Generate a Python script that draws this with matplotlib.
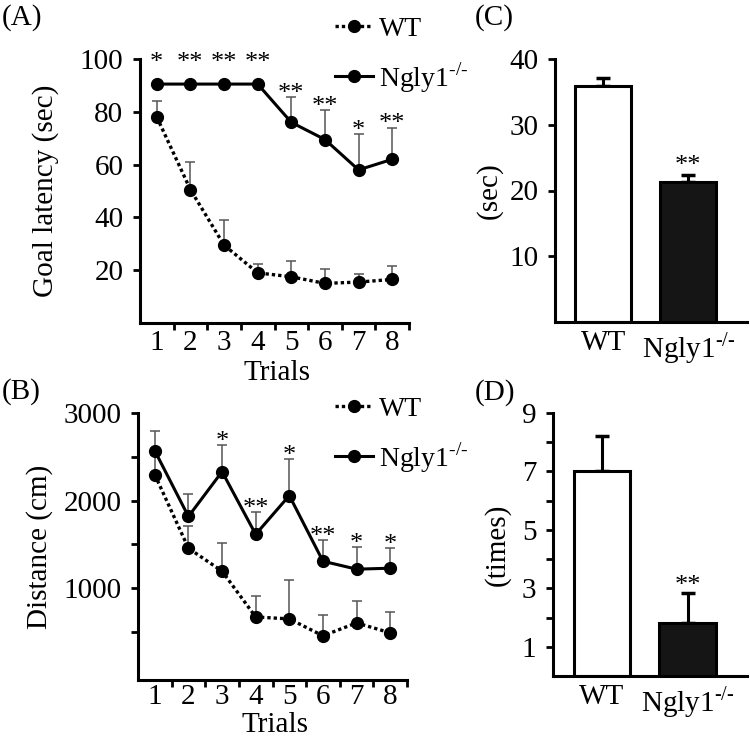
import matplotlib
matplotlib.use("Agg")
import matplotlib.pyplot as plt
import numpy as np

plt.rcParams["font.family"] = ["Liberation Serif", "DejaVu Serif"]
plt.rcParams["mathtext.fontset"] = "custom"
plt.rcParams["mathtext.rm"] = "Liberation Serif"

# ---- data ----
trials = [1, 2, 3, 4, 5, 6, 7, 8]

latency_wt = [78, 50.5, 29.5, 19, 17.5, 15, 15.5, 16.5]
latency_wt_err = [6, 10.5, 9.5, 3.5, 6, 5.5, 3, 5]
latency_ko = [90.5, 90.5, 90.5, 90.5, 76, 69.5, 58, 62]
latency_ko_err = [0, 0, 0, 0, 9.5, 11, 13.5, 12]
latency_sig = ["*", "**", "**", "**", "**", "**", "*", "**"]

distance_wt = [2295, 1455, 1193, 670, 648, 455, 602, 489]
distance_wt_err = [230, 250, 318, 239, 443, 238, 250, 238]
distance_ko = [2568, 1818, 2330, 1614, 2057, 1307, 1216, 1227]
distance_ko_err = [227, 262, 306, 250, 420, 238, 250, 228]
distance_sig = ["", "", "*", "**", "*", "**", "*", "*"]

KO = "Ngly1$^{\\text{-/-}}$"
groups = ["WT", KO]
time_c = [35.9, 21.3]
time_c_err = [1.2, 1.1]
times_d = [7.0, 1.8]
times_d_err = [1.2, 1.03]
bar_sig = ["", "**"]

FS = 21
W, H = 750, 742
fig = plt.figure(figsize=(W / 100, H / 100), dpi=100)


def fbox(l, t, r, b):
    return [l / W, 1 - b / H, (r - l) / W, (b - t) / H]


def style_axes(ax):
    for s in ["top", "right"]:
        ax.spines[s].set_visible(False)
    for s in ["left", "bottom"]:
        ax.spines[s].set_linewidth(2.2)
    ax.tick_params(axis="y", direction="out", length=5, width=2, pad=7, labelsize=FS)


def stars(ax, x, y, s, dy):
    ax.annotate(s, (x, y), xytext=(0, dy), textcoords="offset points", ha="center",
                va="baseline", fontsize=19, annotation_clip=False)


def line_panel(ax, wt, wt_err, ko, ko_err, sig, ylim, yticks, ylabels, ylabel, lx,
               xpad, xly):
    x = np.array(trials)
    ax.errorbar(x, wt, yerr=[np.zeros(len(wt)), wt_err], fmt="none", ecolor="#555555",
                elinewidth=1.1, capsize=3.5, capthick=1.1, zorder=1)
    ax.errorbar(x, ko, yerr=[np.zeros(len(ko)), ko_err], fmt="none", ecolor="#555555",
                elinewidth=1.1, capsize=3.5, capthick=1.1, zorder=1)
    ax.plot(x, wt, color="black", lw=2.4, ls=(0, (1, 0.9)), marker="o", ms=8.5,
            label="WT", zorder=3)
    ax.plot(x, ko, color="black", lw=2.2, ls="-", marker="o", ms=8.5,
            label=KO, zorder=3)
    for xi, m, e, s in zip(x, ko, ko_err, sig):
        if not s:
            continue
        if e > 0:
            stars(ax, xi, m + e, s, -2)
        else:
            stars(ax, xi, ylim[1], s, -7)
    style_axes(ax)
    ax.set_xlim(0.5, 8.5)
    ax.set_ylim(*ylim)
    ax.set_yticks(yticks)
    ax.set_yticklabels(ylabels)
    ax.set_xticks(trials)
    ax.set_xticklabels([str(t) for t in trials])
    ax.set_xticks(np.arange(1.5, 9, 1), minor=True)
    ax.tick_params(axis="x", which="major", length=0, pad=xpad, labelsize=FS)
    ax.tick_params(axis="x", which="minor", direction="out", length=5, width=2)
    ax.set_xlabel("Trials", fontsize=FS)
    ax.xaxis.set_label_coords(0.51, xly)
    ax.set_ylabel(ylabel, fontsize=FS)
    ax.yaxis.set_label_coords(lx, 0.5)


def bar_panel(ax, vals, errs, ylim, yticks, ylabels, ylabel, lx, pad_pts):
    x = np.arange(len(groups))
    ax.bar(x, vals, width=0.66, color=["white", "#151515"], edgecolor="black",
           linewidth=2.2, zorder=2)
    ax.errorbar(x, vals, yerr=[np.zeros(len(vals)), errs], fmt="none", ecolor="black",
                elinewidth=2.2, capsize=5, capthick=2.5, zorder=1)
    for xi, v, e, s in zip(x, vals, errs, bar_sig):
        if s:
            stars(ax, xi, v + e, s, pad_pts)
    style_axes(ax)
    ax.set_xlim(-0.57, 1.69)
    ax.set_ylim(*ylim)
    ax.set_yticks(yticks)
    ax.set_yticklabels(ylabels)
    ax.set_xticks(x)
    ax.set_xticklabels(groups)
    ax.tick_params(axis="x", length=0, pad=6, labelsize=FS)
    ax.set_ylabel(ylabel, fontsize=FS)
    ax.yaxis.set_label_coords(lx, 0.5)


axA = fig.add_axes(fbox(140, 59, 409, 323))
line_panel(axA, latency_wt, latency_wt_err, latency_ko, latency_ko_err, latency_sig,
           (0, 100), [20, 40, 60, 80, 100], ["20", "40", "60", "80", "100"],
           "Goal latency (sec)", -0.30, 5, -0.14)

axB = fig.add_axes(fbox(138, 413, 407, 680))
line_panel(axB, distance_wt, distance_wt_err, distance_ko, distance_ko_err, distance_sig,
           (-50, 3000), [500, 1000, 1500, 2000, 2500, 3000],
           ["", "1000", "", "2000", "", "3000"], "Distance (cm)", -0.315, 3, -0.12)

axC = fig.add_axes(fbox(555, 59, 747, 322))
bar_panel(axC, time_c, time_c_err, (0, 40), [10, 20, 30, 40], ["10", "20", "30", "40"],
          "(sec)", -0.27, 2)

axD = fig.add_axes(fbox(553, 413, 747, 676))
bar_panel(axD, times_d, times_d_err, (0, 9), list(range(1, 10)),
          ["1", "", "3", "", "5", "", "7", "", "9"], "(times)", -0.22, 1)

for ax, yc in [(axA, 55.5), (axB, 435.5)]:
    ax.legend(loc="center left", bbox_to_anchor=(335 / W, 1 - yc / H),
              bbox_transform=fig.transFigure, frameon=False, fontsize=20,
              handlelength=1.37, handletextpad=0.2, labelspacing=0.65,
              borderpad=0, borderaxespad=0, numpoints=1)

for txt, x, y in [("(A)", 2, 18), ("(B)", 2, 392), ("(C)", 475, 18), ("(D)", 475, 393)]:
    fig.text(x / W, 1 - y / H, txt, fontsize=FS, ha="left", va="center")

fig.savefig("out.png", dpi=100)
